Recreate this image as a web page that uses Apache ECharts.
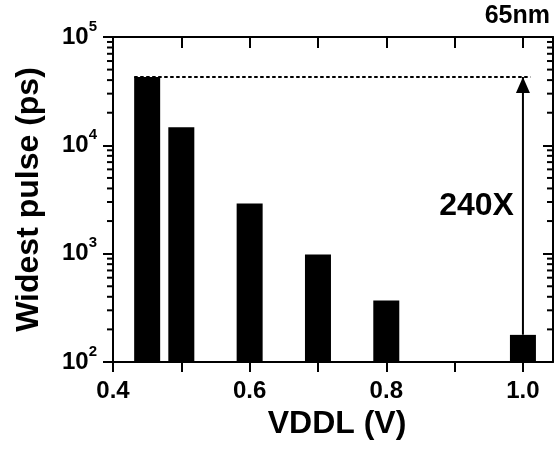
<!DOCTYPE html>
<html>
<head>
<meta charset="utf-8">
<script src="https://cdn.jsdelivr.net/npm/echarts@6/dist/echarts.min.js"></script>
<style>
  html, body { margin: 0; padding: 0; background: #fff; }
  #chart { width: 559px; height: 449px; }
</style>
</head>
<body>
<div id="chart"></div>
<script>
// Widest pulse width versus low supply voltage (65nm)
const VDDL = [0.45, 0.5, 0.6, 0.7, 0.8, 1.0];
const PULSE_PS = [42650, 14700, 2900, 980, 370, 178];

const X_TICKS = [0.4, 0.5, 0.6, 0.7, 0.8, 0.9, 1.0];
const X_LABELS = [0.4, 0.6, 0.8, 1.0];
const Y_DECADES = [100, 1000, 10000, 100000];
const Y_MINOR = [200, 300, 400, 500, 600, 700, 800, 900,
                 2000, 3000, 4000, 5000, 6000, 7000, 8000, 9000,
                 20000, 30000, 40000, 50000, 60000, 70000, 80000, 90000];

// Reference level (dashed) spans from the first bar to just past the last one
const REF_LINE_X = [0.431, 1.011];
const RATIO_TEXT = '240X';

const X_MIN = 0.4, X_MAX = 1.044;
const Y_MIN = 100, Y_MAX = 100000;

const FONT = '"Liberation Sans", Arial, Helvetica, sans-serif';
const BLACK = '#000';

const chart = echarts.init(document.getElementById('chart'), null, { renderer: 'canvas' });

const peak = PULSE_PS[0];
const last = PULSE_PS[PULSE_PS.length - 1];
const lastX = VDDL[VDDL.length - 1];

const supMap = { 100: '2', 1000: '3', 10000: '4', 100000: '5' };

const option = {
  animation: false,
  backgroundColor: '#fff',
  textStyle: { fontFamily: FONT },
  title: {
    text: '65nm',
    right: 9,
    top: 4,
    padding: 0,
    textStyle: { fontFamily: FONT, fontSize: 25, fontWeight: 'bold', color: BLACK }
  },
  grid: { left: 113, top: 37, width: 440, height: 325, containLabel: false },
  xAxis: [
    {
      type: 'value',
      min: X_MIN, max: X_MAX,
      position: 'bottom',
      name: 'VDDL (V)',
      nameLocation: 'middle',
      nameGap: 45,
      nameTextStyle: { fontFamily: FONT, fontSize: 32, fontWeight: 'bold', color: BLACK, padding: [0, 0, 0, 8] },
      axisLine: { show: true, onZero: false, lineStyle: { color: BLACK, width: 2 } },
      axisTick: { show: true, inside: false, length: 10, lineStyle: { color: BLACK, width: 2 }, customValues: X_TICKS },
      axisLabel: {
        show: true, margin: 17, customValues: X_LABELS,
        formatter: v => v.toFixed(1),
        fontFamily: FONT, fontSize: 24, fontWeight: 'bold', color: BLACK
      },
      splitLine: { show: false }
    },
    {
      type: 'value',
      min: X_MIN, max: X_MAX,
      position: 'top',
      axisLine: { show: true, onZero: false, lineStyle: { color: BLACK, width: 2 } },
      axisTick: { show: true, inside: true, length: 11, lineStyle: { color: BLACK, width: 2 }, customValues: X_TICKS },
      axisLabel: { show: false },
      splitLine: { show: false }
    }
  ],
  yAxis: [
    {
      type: 'log',
      logBase: 10,
      min: Y_MIN, max: Y_MAX,
      position: 'left',
      name: 'Widest pulse (ps)',
      nameLocation: 'middle',
      nameGap: 68,
      nameRotate: 90,
      nameTextStyle: { fontFamily: FONT, fontSize: 32, fontWeight: 'bold', color: BLACK },
      axisLine: { show: true, onZero: false, lineStyle: { color: BLACK, width: 2 } },
      axisTick: { show: true, inside: false, length: 10, lineStyle: { color: BLACK, width: 2 }, customValues: Y_DECADES },
      axisLabel: {
        show: true, margin: 16, customValues: Y_DECADES,
        formatter: v => '{b|10}{s|' + supMap[Math.round(v)] + '}',
        rich: {
          b: { fontFamily: FONT, fontSize: 24, fontWeight: 'bold', color: BLACK, lineHeight: 36, verticalAlign: 'middle' },
          s: { fontFamily: FONT, fontSize: 15, fontWeight: 'bold', color: BLACK, lineHeight: 15, verticalAlign: 'top' }
        }
      },
      splitLine: { show: false }
    },
    {
      type: 'log',
      logBase: 10,
      min: Y_MIN, max: Y_MAX,
      position: 'right',
      axisLine: { show: true, onZero: false, lineStyle: { color: BLACK, width: 2 } },
      axisTick: { show: true, inside: true, length: 10, lineStyle: { color: BLACK, width: 2 }, customValues: Y_DECADES },
      axisLabel: { show: false },
      splitLine: { show: false }
    }
  ],
  series: [
    {
      name: 'Widest pulse',
      type: 'bar',
      xAxisIndex: 0, yAxisIndex: 0,
      barWidth: 26,
      itemStyle: { color: BLACK },
      data: VDDL.map((x, i) => [x, PULSE_PS[i]]),
      clip: true,
      z: 2
    },
    {
      // minor log ticks on both vertical axes
      type: 'custom',
      xAxisIndex: 0, yAxisIndex: 0,
      clip: false,
      silent: true,
      z: 5,
      data: Y_MINOR.map(v => [X_MIN, v]),
      encode: { x: 0, y: 1 },
      renderItem: (params, api) => {
        const p = api.coord([X_MIN, api.value(1)]);
        const cs = params.coordSys;
        const st = { stroke: BLACK, lineWidth: 2 };
        return {
          type: 'group',
          children: [
            { type: 'line', shape: { x1: cs.x, y1: p[1], x2: cs.x - 6, y2: p[1] }, style: st },
            { type: 'line', shape: { x1: cs.x + cs.width, y1: p[1], x2: cs.x + cs.width - 6, y2: p[1] }, style: st }
          ]
        };
      }
    },
    {
      // dashed reference at the widest pulse
      type: 'line',
      xAxisIndex: 0, yAxisIndex: 0,
      symbol: 'none',
      silent: true,
      lineStyle: { color: BLACK, width: 2, type: [3.5, 2.5] },
      data: REF_LINE_X.map(x => [x, peak]),
      z: 3
    },
    {
      // arrow from the 1.0 V bar up to the reference level
      type: 'line',
      xAxisIndex: 0, yAxisIndex: 0,
      silent: true,
      showSymbol: true,
      lineStyle: { color: BLACK, width: 2 },
      itemStyle: { color: BLACK },
      data: [
        { value: [lastX, last], symbol: 'none' },
        { value: [lastX, peak], symbol: 'triangle', symbolSize: [14, 16], symbolOffset: [0, 8] }
      ],
      z: 4
    },
    {
      // ratio label beside the arrow
      type: 'scatter',
      xAxisIndex: 0, yAxisIndex: 0,
      silent: true,
      symbolSize: 0,
      itemStyle: { opacity: 1, color: BLACK },
      data: [[lastX, Math.sqrt(peak * last)]],
      label: {
        show: true,
        position: 'left',
        distance: 9,
        formatter: RATIO_TEXT,
        opacity: 1,
        fontFamily: FONT, fontSize: 32, fontWeight: 'bold', color: BLACK
      },
      z: 6
    }
  ]
};

chart.setOption(option);
</script>
</body>
</html>
